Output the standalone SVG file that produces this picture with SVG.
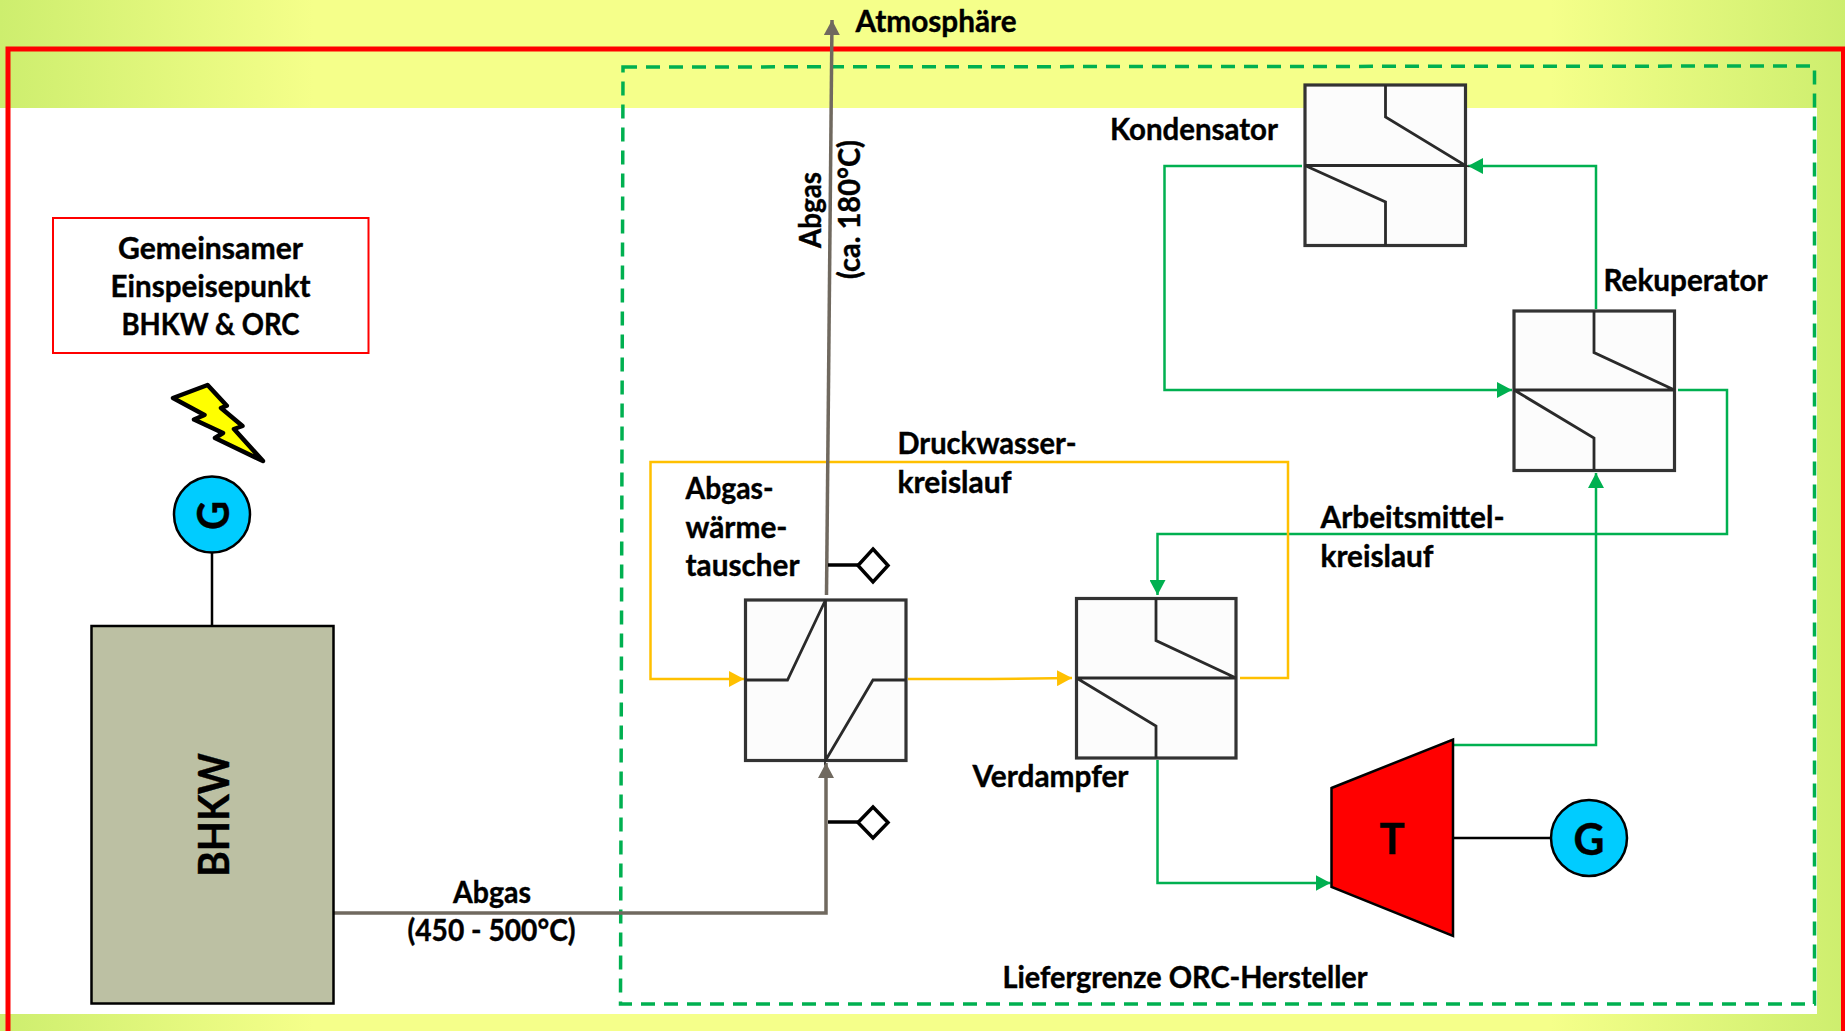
<svg xmlns="http://www.w3.org/2000/svg" width="1845" height="1031" viewBox="0 0 1845 1031">
<defs>
<linearGradient id="bg" x1="0" y1="0" x2="1" y2="0"><stop offset="0" stop-color="#cdee6e"/><stop offset="0.17" stop-color="#f5ff8a"/><stop offset="0.84" stop-color="#f5ff8a"/><stop offset="1" stop-color="#cdee6e"/></linearGradient>
<marker id="ag" markerUnits="userSpaceOnUse" markerWidth="16" markerHeight="16" refX="15" refY="8" orient="auto"><path d="M0 0L15 8L0 16Z" fill="#00b050"/></marker>
<marker id="ay" markerUnits="userSpaceOnUse" markerWidth="16" markerHeight="16" refX="15" refY="8" orient="auto"><path d="M0 0L15 8L0 16Z" fill="#ffc000"/></marker>
<marker id="ab" markerUnits="userSpaceOnUse" markerWidth="16" markerHeight="16" refX="15" refY="8" orient="auto"><path d="M0 0L15 8L0 16Z" fill="#70695f"/></marker>
</defs>
<style>
text{font-family:"Lato","Liberation Sans",sans-serif;font-weight:700;font-size:30px;fill:#000;stroke:#000;stroke-width:.4}
.m{text-anchor:middle}
.hx{fill:#fcfcfc;stroke:#333;stroke-width:3.2}
.in{fill:none;stroke:#2a2a2a;stroke-width:2.8}
.g{fill:none;stroke:#00b050;stroke-width:2.5}
.y{fill:none;stroke:#ffc000;stroke-width:2.5}
.b{fill:none;stroke:#70695f;stroke-width:3.5}
.s{fill:#fff;stroke:#000;stroke-width:3.5}
.gen{fill:#00ccff;stroke:#000;stroke-width:2.5}
</style>
<rect width="1845" height="1031" fill="url(#bg)"/>
<rect x="0" y="108" width="1817" height="906" fill="#fff"/>
<path d="M8 1031V49H1843.5V1031" fill="none" stroke="#ff0000" stroke-width="5"/>
<path d="M623 67L1814.5 66L1814.5 1004L620.500 1004Z" fill="none" stroke="#00b050" stroke-width="3.5" stroke-dasharray="14 9"/>
<g id="einspeisepunkt"><rect x="53" y="218" width="315.500" height="135" fill="#fff" stroke="#ff0000" stroke-width="2"/><text class="m" x="210.500" y="259" textLength="185" lengthAdjust="spacingAndGlyphs">Gemeinsamer</text><text class="m" x="210.500" y="297" textLength="200" lengthAdjust="spacingAndGlyphs">Einspeisepunkt</text><text class="m" x="210.500" y="335" textLength="178" lengthAdjust="spacingAndGlyphs">BHKW &amp; ORC</text></g>
<g id="blitz"><path d="M207.600 385L173 398L204.500 415L194 419.500L223 433L215 438L263 461L234 429L242.500 426L221 408L226.800 405.700Z" fill="#ffff00" stroke="#000" stroke-width="4.500" stroke-linejoin="round"/></g>
<g id="connectors">
<path class="g" d="M1302 166H1164.500V390H1512" marker-end="url(#ag)"/>
<path class="g" d="M1596 309V166H1468" marker-end="url(#ag)"/>
<path class="g" d="M1678 390H1727V534H1157.500V595" marker-end="url(#ag)"/>
<path class="g" d="M1157.500 760V883H1330.500" marker-end="url(#ag)"/>
<path class="g" d="M1453 745H1596V473" marker-end="url(#ag)"/>
<path class="y" d="M1240 678H1288V462H650.500V679H744" marker-end="url(#ay)"/>
<path class="y" d="M908 679L990 679L1072 678" marker-end="url(#ay)"/>
<path class="b" d="M333 913H826V763" marker-end="url(#ab)"/>
<path class="b" d="M826.500 595L832 20" marker-end="url(#ab)"/>
<path d="M212 552V626M1453 838H1551" fill="none" stroke="#000" stroke-width="2.500"/>
</g>
<g id="sensor1"><path d="M828 565H858" fill="none" stroke="#000" stroke-width="3.500"/><path class="s" d="M873 549L888 565.500L873 582L858 565.500Z"/></g>
<g id="sensor2"><path d="M828 822H858" fill="none" stroke="#000" stroke-width="3.500"/><path class="s" d="M873 807L888 822.500L873 838L858 822.500Z"/></g>
<g id="abgaswaermetauscher"><rect class="hx" x="745.500" y="600" width="160.500" height="160.500"/><path class="in" d="M745.500 680H787.500L825.500 600V760.500L873 680H906"/></g>
<g id="verdampfer"><rect class="hx" x="1076.500" y="598.500" width="159.500" height="159.500"/><path class="in" d="M1076.500 678H1236L1156 640.500V598.500M1076.500 678L1156 726V758"/></g>
<g id="kondensator"><rect class="hx" x="1305" y="85" width="160.500" height="160.500"/><path class="in" d="M1305 165.500H1465.500L1385.500 117V85M1305 165.500L1385.500 202V245.500"/></g>
<g id="rekuperator"><rect class="hx" x="1514" y="311" width="160.500" height="159.500"/><path class="in" d="M1514 390H1674.500L1594 352.500V311M1514 390L1594 438V470.500"/></g>
<g id="bhkw"><rect x="91.500" y="626" width="242" height="377.500" fill="#bcc0a3" stroke="#000" stroke-width="2.500"/><text class="m" transform="translate(229 815) rotate(-90)" textLength="124" lengthAdjust="spacingAndGlyphs" style="font-size:42px">BHKW</text></g>
<g id="generator1"><circle class="gen" cx="212" cy="514.500" r="38"/><text class="m" transform="translate(229 515.500) rotate(-90)" textLength="29" lengthAdjust="spacingAndGlyphs" style="font-size:44px">G</text></g>
<g id="turbine"><path d="M1331.500 788L1453 739.500V936L1331.500 887Z" fill="#ff0000" stroke="#000" stroke-width="2.500"/><text class="m" x="1392" y="854" style="font-size:42px">T</text></g>
<g id="generator2"><circle class="gen" cx="1589" cy="838" r="38"/><text class="m" x="1589" y="854.500" textLength="31" lengthAdjust="spacingAndGlyphs" style="font-size:44px">G</text></g>
<g id="labels">
<text x="855.500" y="31.500" textLength="161" lengthAdjust="spacingAndGlyphs">Atmosphäre</text>
<text x="685.500" y="499" textLength="88" lengthAdjust="spacingAndGlyphs">Abgas-</text><text x="685.500" y="538" textLength="102" lengthAdjust="spacingAndGlyphs">wärme-</text><text x="685.500" y="576" textLength="114" lengthAdjust="spacingAndGlyphs">tauscher</text>
<text x="897.500" y="454" textLength="179" lengthAdjust="spacingAndGlyphs">Druckwasser-</text><text x="897.500" y="493" textLength="114" lengthAdjust="spacingAndGlyphs">kreislauf</text>
<text x="972.500" y="787" textLength="156" lengthAdjust="spacingAndGlyphs">Verdampfer</text>
<text x="1110" y="139.500" textLength="168" lengthAdjust="spacingAndGlyphs">Kondensator</text>
<text x="1603.500" y="290.500" textLength="164" lengthAdjust="spacingAndGlyphs">Rekuperator</text>
<text x="1320.500" y="528" textLength="184" lengthAdjust="spacingAndGlyphs">Arbeitsmittel-</text><text x="1320.500" y="567" textLength="113" lengthAdjust="spacingAndGlyphs">kreislauf</text>
<text class="m" x="492" y="903" textLength="78" lengthAdjust="spacingAndGlyphs">Abgas</text><text class="m" x="491.500" y="941" textLength="168" lengthAdjust="spacingAndGlyphs">(450 - 500°C)</text>
<text x="1002.500" y="988" textLength="365" lengthAdjust="spacingAndGlyphs">Liefergrenze ORC-Hersteller</text>
<text class="m" transform="translate(820.500 210) rotate(-90)" textLength="76" lengthAdjust="spacingAndGlyphs">Abgas</text>
<text class="m" transform="translate(859.500 209.500) rotate(-90)" textLength="139" lengthAdjust="spacingAndGlyphs">(ca. 180°C)</text>
</g>
</svg>
